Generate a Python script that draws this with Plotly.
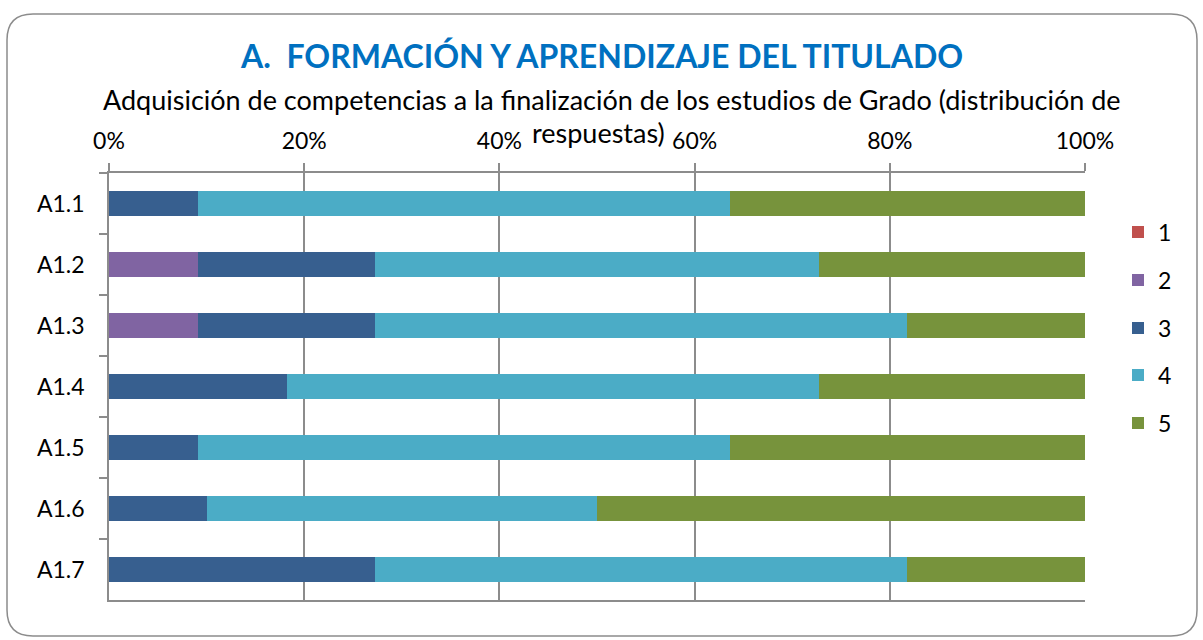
import plotly.graph_objects as go

categories = ["A1.1", "A1.2", "A1.3", "A1.4", "A1.5", "A1.6", "A1.7"]
series_names = ["1", "2", "3", "4", "5"]
s1 = [0, 0, 0, 0, 0, 0, 0]
s2 = [0, 9.1, 9.1, 0, 0, 0, 0]
s3 = [9.1, 18.2, 18.2, 18.2, 9.1, 10.0, 27.3]
s4 = [54.5, 45.4, 54.5, 54.5, 54.5, 40.0, 54.5]
s5 = [36.4, 27.3, 18.2, 27.3, 36.4, 50.0, 18.2]
colors = ["#C0504D", "#8064A2", "#375F8F", "#4BACC6", "#77933C"]

FONT = "Lato, 'Open Sans', sans-serif"

# plot area in pixels
L, R, T, B = 109, 1085, 173, 600
W, H = 1203, 640
pw, ph = R - L, B - T

def px(x):
    return (x - L) / pw

def py(y):
    return (B - y) / ph

legend_ys = [232, 280, 328, 375, 423]
legend_keys = ["legend", "legend2", "legend3", "legend4", "legend5"]

fig = go.Figure()
for name, vals, col, lk in zip(series_names, [s1, s2, s3, s4, s5], colors, legend_keys):
    fig.add_trace(go.Bar(
        y=categories, x=[v / 100 for v in vals], name=name, orientation="h",
        marker=dict(color=col, line=dict(width=0)), legend=lk,
    ))

legend_layouts = {}
for lk, ly in zip(legend_keys, legend_ys):
    legend_layouts[lk] = dict(x=px(1118), y=py(ly), xanchor="left", yanchor="middle",
                              font=dict(family=FONT, size=23), bgcolor="rgba(0,0,0,0)",
                              itemwidth=30)

# rounded border
x0, x1, y0, y1, r = 7, 1197, 14, 636, 26
path = (
    f"M {px(x0 + r)} {py(y0)} L {px(x1 - r)} {py(y0)} "
    f"Q {px(x1)} {py(y0)} {px(x1)} {py(y0 + r)} "
    f"L {px(x1)} {py(y1 - r)} "
    f"Q {px(x1)} {py(y1)} {px(x1 - r)} {py(y1)} "
    f"L {px(x0 + r)} {py(y1)} "
    f"Q {px(x0)} {py(y1)} {px(x0)} {py(y1 - r)} "
    f"L {px(x0)} {py(y0 + r)} "
    f"Q {px(x0)} {py(y0)} {px(x0 + r)} {py(y0)} Z"
)

fig.update_layout(
    width=W, height=H,
    margin=dict(l=L, r=W - R, t=T, b=H - B),
    barmode="stack", bargap=0.6,
    paper_bgcolor="white", plot_bgcolor="white",
    font=dict(family=FONT, size=23, color="black"),
    shapes=[dict(type="path", path=path, xref="paper", yref="paper",
                 line=dict(color="#8C8C8C", width=1.5), layer="below")],
    annotations=[
        dict(text="<b>A.  FORMACIÓN Y APRENDIZAJE DEL TITULADO</b>", x=px(601), y=py(56),
             xref="paper", yref="paper", showarrow=False, xanchor="center", yanchor="middle",
             font=dict(family=FONT, size=32, color="#0070C0")),
        dict(text="Adquisición de competencias a la finalización de los estudios de Grado (distribución de",
             x=px(612), y=py(99), xref="paper", yref="paper", showarrow=False,
             xanchor="center", yanchor="middle", font=dict(family=FONT, size=27, color="black")),
        dict(text="respuestas)", x=px(598), y=py(133), xref="paper", yref="paper", showarrow=False,
             xanchor="center", yanchor="middle", font=dict(family=FONT, size=27, color="black")),
    ],
    showlegend=True,
    **legend_layouts,
)

fig.update_xaxes(
    side="top", range=[0, 1], tickformat=".0%", dtick=0.2, tick0=0,
    showgrid=True, gridcolor="#8C8C8C", gridwidth=1.5,
    showline=True, linecolor="#8C8C8C", linewidth=1.5, mirror=True,
    ticks="outside", ticklen=8, tickcolor="#8C8C8C", tickwidth=1.5,
    ticklabelstandoff=5, zeroline=False,
    tickfont=dict(family=FONT, size=23),
)
fig.update_yaxes(
    autorange="reversed", showline=True, linecolor="#8C8C8C", linewidth=1.5,
    ticks="outside", ticklen=8, tickcolor="#8C8C8C", tickwidth=1.5, tickson="boundaries",
    ticklabelstandoff=18, showgrid=False,
    tickfont=dict(family=FONT, size=23),
)

fig.write_html("out.html", config={"displayModeBar": False},
               post_script="document.body.style.margin='0';")
